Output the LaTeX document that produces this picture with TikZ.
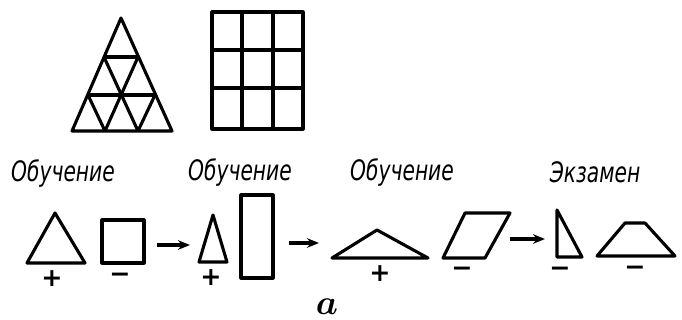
\documentclass[tikz,border=0pt]{standalone}
\usepackage{fontspec}
\newfontfamily\labfont{DejaVu Sans Condensed}[FakeStretch=0.8]
\newfontfamily\signfont{DejaVu Sans}
\usetikzlibrary{arrows.meta}
\tikzset{
  fig/.style={line width=2.2pt, line join=round},
  arrowK/.style={-{Stealth[length=3mm, width=2.4mm]}, line width=2.2pt},
  word/.style={font=\labfont\itshape\fontsize{20}{20}\selectfont, inner sep=0pt},
  sign/.style={font=\signfont\bfseries\fontsize{18}{18}\selectfont, inner sep=0pt},
}
\begin{document}
\begin{tikzpicture}[x=0.025cm, y=-0.025cm]
  \useasboundingbox (0,0) rectangle (682,320);
  % top: divided triangle and grid square
  \draw[fig] (72,131) -- (121,18) -- (172,131) -- cycle;
  \draw[fig] (104,57) -- (138,57);
  \draw[fig] (88,95) -- (155,95);
  \draw[fig] (104,57) -- (138,131);
  \draw[fig] (88,95) -- (105,131);
  \draw[fig] (138,57) -- (105,131);
  \draw[fig] (155,95) -- (138,131);
  \draw[fig] (212,12) rectangle (303,129);
  \foreach \gx in {242,273} \draw[fig] (\gx,12) -- (\gx,129);
  \foreach \gy in {50,88} \draw[fig] (212,\gy) -- (303,\gy);
  % labels of the stages
  \node[word] (w1) at (63,174) {Обучение};
  \node[word] (w2) at (240,173) {Обучение};
  \node[word] (w3) at (402,173) {Обучение};
  \node[word] (w4) at (595,172) {Экзамен};
  % bottom row of figures
  \draw[fig] (27,263) -- (55,213) -- (85,263) -- cycle;
  \draw[fig] (102,220) rectangle (144,263);
  \draw[fig] (199,262) -- (213,215) -- (227,262) -- cycle;
  \draw[fig] (241,195) rectangle (273,278);
  \draw[fig] (332,258) -- (377,230) -- (428,258) -- cycle;
  \draw[fig] (443,258) -- (485,258) -- (510,213) -- (465,213) -- cycle;
  \draw[fig] (557,210) -- (557,257) -- (582,257) -- cycle;
  \draw[fig] (597,256) -- (675,256) -- (645,223) -- (625,223) -- cycle;
  % signs
  \node[sign] (s1) at (52,279) {+};
  \node[sign] (s2) at (120,278) {−};
  \node[sign] (s3) at (211,278) {+};
  \node[sign] (s4) at (380,274) {+};
  \node[sign] (s5) at (462,272) {−};
  \node[sign] (s6) at (560,272) {−};
  \node[sign] (s7) at (635,271) {−};
  % arrows between stages
  \coordinate (a1s) at (157,245); \coordinate (a1e) at (190,245);
  \coordinate (a2s) at (289,243); \coordinate (a2e) at (319,243);
  \coordinate (a3s) at (510,239); \coordinate (a3e) at (545,239);
  \draw[arrowK] (a1s) -- (a1e);
  \draw[arrowK] (a2s) -- (a2e);
  \draw[arrowK] (a3s) -- (a3e);
  \node[font=\boldmath\fontsize{28}{28}\selectfont, inner sep=0pt] (cap) at (327,307) {$a$};
\end{tikzpicture}
\end{document}
